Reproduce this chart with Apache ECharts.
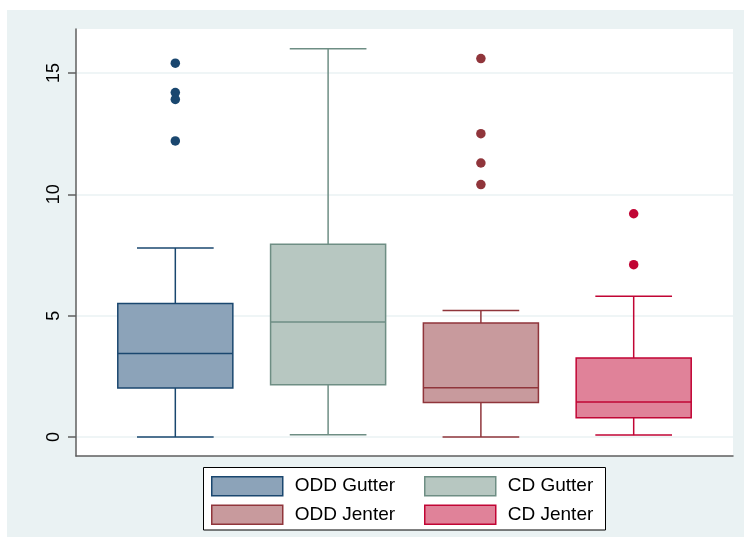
<!DOCTYPE html>
<html>
<head>
<meta charset="utf-8">
<script src="https://cdn.jsdelivr.net/npm/echarts@6/dist/echarts.min.js"></script>
<style>
  html, body { margin: 0; padding: 0; background: #ffffff; }
  #wrap { position: relative; width: 744px; height: 537px; background: #ffffff; overflow: hidden; }
  #region { position: absolute; left: 7px; top: 10px; width: 737px; height: 527px; background: #EAF2F3; }
  #chart { position: absolute; left: 0; top: 0; width: 744px; height: 537px; }
</style>
</head>
<body>
<div id="wrap"><div id="region"></div><div id="chart"></div></div>
<script>
// ---- data ----
const categories   = ['ODD Gutter', 'CD Gutter', 'ODD Jenter', 'CD Jenter'];
const positions    = [1, 2, 3, 4];
const whiskerLow   = [0.00, 0.10, 0.00, 0.08];
const quartile1    = [2.02, 2.16, 1.42, 0.80];
const medians      = [3.44, 4.74, 2.03, 1.44];
const quartile3    = [5.50, 7.94, 4.70, 3.26];
const whiskerHigh  = [7.79, 16.00, 5.21, 5.80];
const outliers     = [
  [15.40, 14.19, 13.91, 12.20],
  [],
  [15.59, 12.50, 11.29, 10.40],
  [9.20, 7.10]
];
const yTicks = [0, 5, 10, 15];

// ---- styles ----
const lineColors = ['#1A476F', '#6E8E84', '#90353B', '#C10534'];
const fillColors = ['#8CA3B9', '#B7C7C1', '#C89A9D', '#E08299'];
const BOX_W = 0.753;
const CAP_W = 0.502;
const FONT = 'Liberation Sans, Arial, sans-serif';

function makeRender(idx) {
  return function (params, api) {
    const x = api.value(0);
    const pLo = api.coord([x, api.value(1)]);
    const pA  = api.coord([x, api.value(2)]);
    const pM  = api.coord([x, api.value(3)]);
    const pB  = api.coord([x, api.value(4)]);
    const pHi = api.coord([x, api.value(5)]);
    const w = api.size([BOX_W, 0])[0];
    const cw = api.size([CAP_W, 0])[0];
    const cx = pM[0];
    const stroke = { stroke: lineColors[idx], lineWidth: 1.5, fill: null };
    return {
      type: 'group',
      children: [
        { type: 'line', shape: { x1: cx, y1: pB[1], x2: cx, y2: pHi[1] }, style: stroke },
        { type: 'line', shape: { x1: cx - cw / 2, y1: pHi[1], x2: cx + cw / 2, y2: pHi[1] }, style: stroke },
        { type: 'line', shape: { x1: cx, y1: pA[1], x2: cx, y2: pLo[1] }, style: stroke },
        { type: 'line', shape: { x1: cx - cw / 2, y1: pLo[1], x2: cx + cw / 2, y2: pLo[1] }, style: stroke },
        { type: 'rect', shape: { x: cx - w / 2, y: pB[1], width: w, height: pA[1] - pB[1] },
          style: { fill: fillColors[idx], stroke: lineColors[idx], lineWidth: 1.5 } },
        { type: 'line', shape: { x1: cx - w / 2, y1: pM[1], x2: cx + w / 2, y2: pM[1] }, style: stroke }
      ]
    };
  };
}

const series = [];
// grid lines through the y scale
series.push({
  type: 'line',
  name: '_grid',
  data: [],
  silent: true,
  z: 1,
  markLine: {
    silent: true,
    z: 1,
    symbol: ['none', 'none'],
    label: { show: false },
    lineStyle: { color: '#EAF2F3', width: 1.5, type: 'solid' },
    animation: false,
    data: yTicks.map(v => ({ yAxis: v }))
  }
});
categories.forEach((name, i) => {
  series.push({
    type: 'custom',
    name: name,
    renderItem: makeRender(i),
    encode: { x: 0, y: [1, 2, 3, 4, 5] },
    itemStyle: { color: fillColors[i], borderColor: lineColors[i], borderWidth: 1.5 },
    data: [[positions[i], whiskerLow[i], quartile1[i], medians[i], quartile3[i], whiskerHigh[i]]],
    z: 3,
    animation: false
  });
  series.push({
    type: 'scatter',
    name: name + ' outliers',
    symbol: 'circle',
    symbolSize: 9.5,
    itemStyle: { color: lineColors[i], opacity: 1 },
    data: outliers[i].map(v => [positions[i], v]),
    z: 4,
    animation: false
  });
});

function legendItem(i) {
  return {
    name: categories[i],
    icon: 'rect',
    itemStyle: { color: fillColors[i], borderColor: lineColors[i], borderWidth: 1.5 }
  };
}
const legendCommon = {
  orient: 'vertical',
  top: 476,
  padding: 0,
  itemWidth: 71, itemHeight: 19,
  itemGap: 8,
  selectedMode: false,
  z: 10,
  textStyle: {
    color: '#000', fontSize: 19, lineHeight: 19,
    fontFamily: FONT,
    padding: [0, 0, 0, 7]
  }
};

const chart = echarts.init(document.getElementById('chart'), null, { renderer: 'canvas' });
chart.setOption({
  animation: false,
  backgroundColor: 'transparent',
  grid: {
    left: 76, right: 11, top: 29, bottom: 81,
    show: true, backgroundColor: '#ffffff', borderWidth: 0
  },
  xAxis: {
    type: 'value',
    min: 0.35, max: 4.65,
    z: 5,
    axisLine: { show: true, onZero: false, lineStyle: { color: '#5f5f5f', width: 1.5 } },
    axisTick: { show: false },
    axisLabel: { show: false },
    splitLine: { show: false }
  },
  yAxis: {
    type: 'value',
    min: -0.78, max: 16.81,
    z: 5,
    axisLine: { show: true, onZero: false, lineStyle: { color: '#5f5f5f', width: 1.5 } },
    axisTick: { show: true, length: 8, customValues: yTicks, lineStyle: { color: '#5f5f5f', width: 1.5 } },
    axisLabel: {
      show: true, customValues: yTicks, rotate: 90, margin: 13,
      color: '#000', fontSize: 18, fontFamily: FONT
    },
    splitLine: { show: false }
  },
  graphic: [{
    type: 'rect',
    z: 0,
    silent: true,
    shape: { x: 203.5, y: 467.5, width: 402, height: 62.5 },
    style: { fill: '#ffffff', stroke: '#000000', lineWidth: 1 }
  }],
  legend: [
    Object.assign({}, legendCommon, { left: 211, data: [legendItem(0), legendItem(2)] }),
    Object.assign({}, legendCommon, { left: 424, data: [legendItem(1), legendItem(3)] })
  ],
  series: series
});
</script>
</body>
</html>
